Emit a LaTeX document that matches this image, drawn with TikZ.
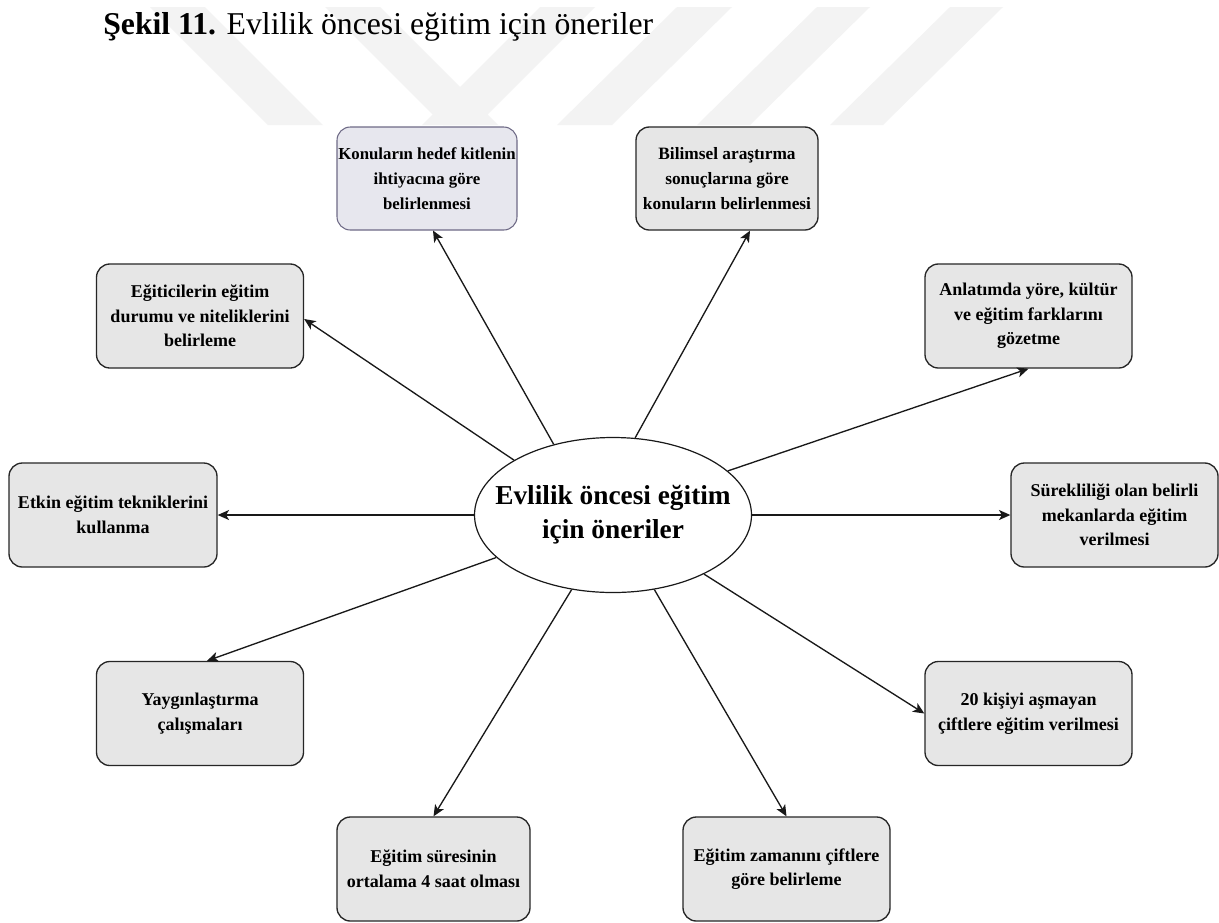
\documentclass[tikz,border=0pt]{standalone}
\usepackage{fontspec}
\setmainfont{Liberation Serif}
\usetikzlibrary{arrows.meta,calc,shapes.geometric}
\definecolor{boxfill}{HTML}{E6E6E6}
\definecolor{boxfillp}{HTML}{E7E7EE}
\definecolor{boxdrawp}{HTML}{6E6A86}
\definecolor{wm}{HTML}{F3F3F3}
\begin{document}
\begin{tikzpicture}[x=0.75pt,y=-0.75pt,
  sbox/.style={draw=black!85, line width=1pt, fill=boxfill, rounded corners=10pt,
    align=center, inner sep=0pt, font=\bfseries\fontsize{13.5}{18.5}\selectfont,
    minimum width=155.25pt, minimum height=78pt},
  pbox/.style={draw=boxdrawp, line width=0.8pt, fill=boxfillp},
  conn/.style={line width=1pt, draw=black!90, -{Stealth[length=8.5pt,width=7.5pt,inset=2.2pt]}},
  wmband/.style={fill=wm, draw=none}]
\useasboundingbox (0,0) rectangle (1219,922);
\fill[white] (0,0) rectangle (1219,922);
% watermark
\fill[wmband] (150,7) -- (205,7) -- (323,125) -- (268,125) -- cycle;
\fill[wmband] (325,7) -- (380,7) -- (498,125) -- (443,125) -- cycle;
\fill[wmband] (540,7) -- (595,7) -- (477,125) -- (422,125) -- cycle;
\fill[wmband] (677,7) -- (732,7) -- (612,125) -- (557,125) -- cycle;
\fill[wmband] (817,7) -- (870,7) -- (750,125) -- (697,125) -- cycle;
\fill[wmband] (950,7) -- (1003,7) -- (883,125) -- (830,125) -- cycle;
% title
\node[anchor=base west, inner sep=0pt, font=\fontsize{23.8}{28}\selectfont] (title) at (103,34)
  {\textbf{Şekil 11.} Evlilik öncesi eğitim için öneriler};
% centre
\node[ellipse, draw=black!90, line width=0.9pt, fill=white, inner sep=0pt,
  minimum width=207.75pt, minimum height=116.25pt] (c) at (613,515) {};
\node[align=center, inner sep=0pt, font=\bfseries\fontsize{20.5}{25.5}\selectfont] (ct) at (c.center)
  {Evlilik öncesi eğitim\\için öneriler};
% boxes
\node[sbox, pbox, minimum width=135pt, minimum height=77.25pt, font=\bfseries\fontsize{12.6}{18.5}\selectfont] (b1) at (427,178.5)
  {Konuların hedef kitlenin\\ihtiyacına göre\\belirlenmesi};
\node[sbox, minimum width=136.5pt, minimum height=77.25pt, font=\bfseries\fontsize{13}{18.5}\selectfont] (b2) at (727,178.5)
  {Bilimsel araştırma\\sonuçlarına göre\\konuların belirlenmesi};
\node[sbox] (b3) at (200,316) {Eğiticilerin eğitim\\durumu ve niteliklerini\\belirleme};
\node[sbox, minimum width=156pt] (b4) at (113,515) {Etkin eğitim tekniklerini\\kullanma};
\node[sbox] (b5) at (1028.5,316) {Anlatımda yöre, kültür\\ve eğitim farklarını\\gözetme};
\node[sbox] (b6) at (1114.5,515) {Sürekliliği olan belirli\\mekanlarda eğitim\\verilmesi};
\node[sbox] (b7) at (1028.5,713.5) {20 kişiyi aşmayan\\çiftlere eğitim verilmesi};
\node[sbox] (b8) at (200,713.5) {Yaygınlaştırma\\çalışmaları};
\node[sbox, minimum width=144.75pt] (b9) at (433.5,869) {Eğitim süresinin\\ortalama 4 saat olması};
\node[sbox] (b10) at (786.5,869) {Eğitim zamanını çiftlere\\göre belirleme};
% connectors
\draw[conn] (c.130.4) -- ($(b1.south)+(6,0)$);
\draw[conn] (c.74) -- ($(b2.south)+(23,0)$);
\draw[conn] (c.151.7) -- ($(b3.east)+(0,3)$);
\draw[conn] (c.west) -- (b4.east);
\draw[conn] (c.21) -- (b5.south);
\draw[conn] (c.east) -- (b6.west);
\draw[conn] (c.-33.8) -- (b7.west);
\draw[conn] (c.200) -- ($(b8.north)+(7,0)$);
\draw[conn] (c.241.6) -- (b9.north);
\draw[conn] (c.-61.4) -- (b10.north);
\end{tikzpicture}
\end{document}
